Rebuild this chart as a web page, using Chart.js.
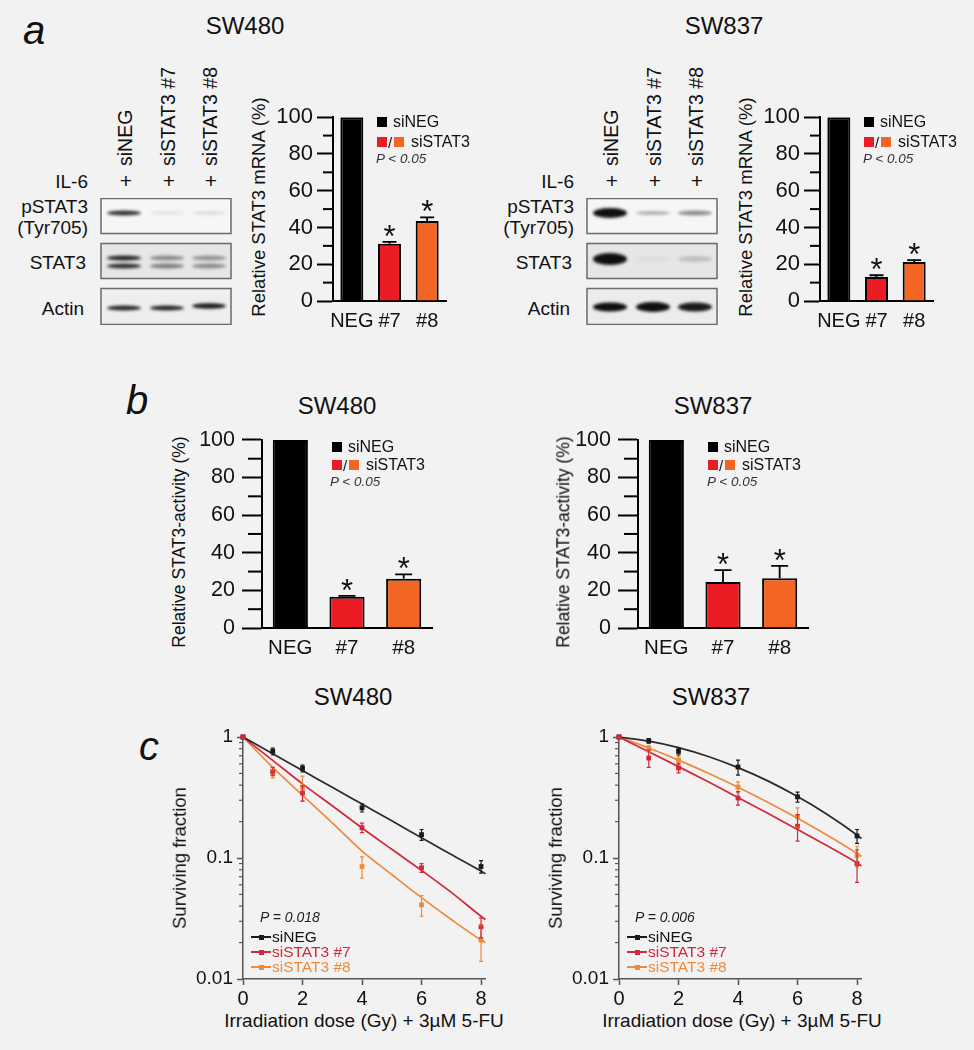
<!DOCTYPE html>
<html><head><meta charset="utf-8">
<script src="https://cdn.jsdelivr.net/npm/chart.js@4.4.1/dist/chart.umd.min.js"></script>
<style>
html,body{margin:0;padding:0}
body{width:974px;height:1050px;position:relative;overflow:hidden;background:#f2f2f2;font-family:"Liberation Sans",Arial,Helvetica,sans-serif;color:#111}
.t{position:absolute;white-space:nowrap;line-height:1}
.sq{position:absolute}
canvas{position:absolute;display:block}
</style></head><body>
<script>
// ---------------- data ----------------
const barCategories = ['NEG', '#7', '#8'];
const barTickValues = [0, 20, 40, 60, 80, 100];
const barMinorTickValues = [10, 30, 50, 70, 90];
const mrnaSW480 = [100, 31.2, 43.5];
const mrnaSW480Err = [0, 1.0, 2.0];
const mrnaSW837 = [100, 13.0, 21.2];
const mrnaSW837Err = [0, 1.0, 1.0];
const activitySW480 = [100, 16.6, 26.2];
const activitySW480Err = [0, 0.5, 2.3];
const activitySW837 = [100, 24.5, 26.4];
const activitySW837Err = [0, 6.3, 6.6];

const doses = [0, 1, 2, 4, 6, 8];
const doseTicks = [0, 2, 4, 6, 8];
const survTicks = [0.01, 0.1, 1];
const survMinorTicks = [0.02, 0.03, 0.04, 0.05, 0.06, 0.07, 0.08, 0.09, 0.2, 0.3, 0.4, 0.5, 0.6, 0.7, 0.8, 0.9];
const sw480_siNEG = [1, 0.76, 0.55, 0.26, 0.156, 0.085];
const sw480_siNEG_err = [0, 0.05, 0.035, 0.02, 0.016, 0.01];
const sw480_si7 = [1, 0.52, 0.345, 0.178, 0.083, 0.027];
const sw480_si7_err = [0, 0.04, 0.05, 0.016, 0.007, 0.005];
const sw480_si8 = [1, 0.50, 0.385, 0.085, 0.041, 0.021];
const sw480_si8_err = [0, 0.04, 0.09, 0.017, 0.008, 0.007];
const sw837_siNEG = [1, 0.93, 0.76, 0.565, 0.32, 0.152];
const sw837_siNEG_err = [0, 0.04, 0.05, 0.08, 0.03, 0.02];
const sw837_si7 = [1, 0.67, 0.555, 0.313, 0.183, 0.09];
const sw837_si7_err = [0, 0.11, 0.05, 0.04, 0.045, 0.027];
const sw837_si8 = [1, 0.80, 0.645, 0.386, 0.22, 0.105];
const sw837_si8_err = [0, 0.05, 0.05, 0.04, 0.04, 0.02];

// fitted curves
const fitDoses = [0, 1, 2, 3, 4, 5, 6, 7, 8, 8.15];
const sw480_fit_siNEG = [1, 0.727, 0.528, 0.384, 0.279, 0.203, 0.147, 0.107, 0.078, 0.074];
const sw480_fit_si7 = [1, 0.64, 0.41, 0.27, 0.177, 0.118, 0.079, 0.052, 0.033, 0.031];
const sw480_fit_si8 = [1, 0.56, 0.33, 0.195, 0.114, 0.073, 0.047, 0.031, 0.021, 0.020];
const sw837_fit_siNEG = [1, 0.924, 0.817, 0.69, 0.558, 0.434, 0.322, 0.229, 0.155, 0.145];
const sw837_fit_si7 = [1, 0.756, 0.569, 0.426, 0.316, 0.234, 0.172, 0.126, 0.091, 0.086];
const sw837_fit_si8 = [1, 0.81, 0.644, 0.502, 0.385, 0.289, 0.213, 0.154, 0.109, 0.103];

// western blot band intensities (0..1) per lane
const blotLanes = ['siNEG', 'siSTAT3 #7', 'siSTAT3 #8'];
const sw480_pSTAT3 = [0.85, 0.07, 0.10];
const sw480_STAT3_upper = [0.9, 0.42, 0.38];
const sw480_STAT3_lower = [0.85, 0.48, 0.42];
const sw480_Actin = [0.9, 0.9, 0.95];
const sw837_pSTAT3 = [1.0, 0.3, 0.45];
const sw837_STAT3 = [1.0, 0.05, 0.18];
const sw837_Actin = [1.0, 1.0, 0.95];

// ---------------- helpers ----------------
const F = '"Liberation Sans", Arial, Helvetica, sans-serif';
const BLACK = '#1a1a1a', RED = '#d2283a', ORANGE = '#ef8a3a';
const BAR_COLORS = ['#000000', '#ec1c24', '#f26522'];
Chart.defaults.font.family = F;
Chart.defaults.color = '#111';

function T(str, x, y, size, o = {}) {
  const d = document.createElement('div');
  d.className = 't';
  d.textContent = str;
  d.style.left = x + 'px'; d.style.top = y + 'px';
  d.style.fontSize = size + 'px';
  if (o.italic) d.style.fontStyle = 'italic';
  if (o.color) d.style.color = o.color;
  let tr;
  switch (o.align || 'c') {
    case 'l': tr = 'translate(0,-50%)'; break;
    case 'r': tr = 'translate(-100%,-50%)'; break;
    case 'rot': tr = 'translate(-50%,-50%) rotate(-90deg)'; break;
    case 'up': d.style.transformOrigin = '0 0'; tr = 'rotate(-90deg) translate(0,-50%)'; break;
    default: tr = 'translate(-50%,-50%)';
  }
  d.style.transform = tr;
  document.body.appendChild(d);
  return d;
}
function SQ(x, y, w, h, c) {
  const d = document.createElement('div');
  d.className = 'sq';
  Object.assign(d.style, { left: x + 'px', top: y + 'px', width: w + 'px', height: h + 'px', background: c });
  document.body.appendChild(d);
}
function mk(left, top, w, h) {
  const c = document.createElement('canvas');
  c.width = w; c.height = h;
  c.style.left = left + 'px'; c.style.top = top + 'px';
  c.style.width = w + 'px'; c.style.height = h + 'px';
  document.body.appendChild(c);
  return c;
}

// plugin: minor ticks, error bars, significance stars
const decor = {
  id: 'decor',
  afterDatasetsDraw(chart, args, o) {
    const ctx = chart.ctx, ys = chart.scales.y, ca = chart.chartArea;
    ctx.save();
    if (o.minorY) {
      ctx.strokeStyle = o.minorY.color; ctx.lineWidth = o.minorY.width;
      o.minorY.values.forEach(v => {
        const y = ys.getPixelForValue(v);
        ctx.beginPath(); ctx.moveTo(ca.left - o.minorY.length, y); ctx.lineTo(ca.left, y); ctx.stroke();
      });
    }
    (o.errors || []).forEach(e => {
      const meta = chart.getDatasetMeta(e.dataset);
      const data = chart.data.datasets[e.dataset].data;
      ctx.strokeStyle = e.color; ctx.lineWidth = e.width;
      e.values.forEach((err, i) => {
        if (!err) return;
        const el = meta.data[i]; const d = data[i];
        const v = (typeof d === 'object') ? d.y : d;
        const x = el.x;
        const yTop = ys.getPixelForValue(v + err);
        const yBot = e.upperOnly ? ys.getPixelForValue(v) : ys.getPixelForValue(Math.max(v - err, ys.min));
        ctx.beginPath();
        ctx.moveTo(x, yBot); ctx.lineTo(x, yTop);
        ctx.moveTo(x - e.cap / 2, yTop); ctx.lineTo(x + e.cap / 2, yTop);
        if (!e.upperOnly) { ctx.moveTo(x - e.cap / 2, yBot); ctx.lineTo(x + e.cap / 2, yBot); }
        ctx.stroke();
      });
    });
    if (o.stars) {
      const s = o.stars;
      const meta = chart.getDatasetMeta(0);
      const data = chart.data.datasets[0].data;
      ctx.fillStyle = '#111';
      ctx.font = s.size + 'px ' + F;
      ctx.textAlign = 'center'; ctx.textBaseline = 'alphabetic';
      s.indices.forEach(i => {
        const yc = ys.getPixelForValue(data[i] + s.errors[i]) - s.gap;
        ctx.fillText('*', meta.data[i].x, yc + 0.575 * s.size);
      });
    }
    ctx.restore();
  }
};
Chart.register(decor);

function barChart(left, top, W, H, geo, vals, errs, st) {
  const cv = mk(left, top, W, H);
  new Chart(cv, {
    type: 'bar',
    data: { labels: barCategories, datasets: [{ data: vals, backgroundColor: BAR_COLORS, borderColor: '#000', borderWidth: 2, barPercentage: st.bp, categoryPercentage: 1 }] },
    options: {
      responsive: false, animation: false, devicePixelRatio: 1,
      layout: { padding: { top: geo.pt, right: geo.pr, left: 0, bottom: 0 } },
      plugins: {
        legend: { display: false }, tooltip: { enabled: false },
        decor: {
          minorY: { values: barMinorTickValues, length: st.minorLen, width: 2, color: '#000' },
          errors: [{ dataset: 0, values: errs, upperOnly: true, cap: st.cap, width: 1.8, color: '#000' }],
          stars: { indices: [1, 2], errors: errs, gap: 13, size: 31 }
        }
      },
      scales: {
        x: {
          grid: { display: false }, border: { display: true, color: '#000', width: 2 },
          ticks: { font: { size: st.xFont }, color: '#111', padding: st.xPad, maxRotation: 0, minRotation: 0, autoSkip: false },
          afterFit: s => { s.height = geo.xh; }
        },
        y: {
          min: 0, max: 100,
          afterBuildTicks: s => { s.ticks = barTickValues.map(v => ({ value: v })); },
          grid: { display: true, drawOnChartArea: false, drawTicks: true, tickLength: st.majorLen, tickWidth: 2, tickColor: '#000' },
          border: { display: true, color: '#000', width: 2 },
          ticks: { font: { size: st.yFont }, color: '#111', padding: st.yPad },
          afterFit: s => { s.width = geo.yw; }
        }
      }
    }
  });
}

function survChart(left, top, W, H, geo, d) {
  const cv = mk(left, top, W, H);
  const pts = (arr) => doses.map((x, i) => ({ x: x, y: arr[i] }));
  const fit = (arr) => fitDoses.map((x, i) => ({ x: x, y: arr[i] }));
  const ptDs = (arr, c) => ({ data: pts(arr), showLine: false, pointStyle: 'rect', pointRadius: 3.4, backgroundColor: c, borderColor: c, borderWidth: 0, clip: false });
  const fitDs = (arr, c) => ({ data: fit(arr), showLine: true, pointRadius: 0, borderColor: c, borderWidth: 1.7, cubicInterpolationMode: 'monotone', clip: false, fill: false });
  new Chart(cv, {
    type: 'scatter',
    data: {
      datasets: [
        ptDs(d.si7, RED), ptDs(d.neg, BLACK), ptDs(d.si8, ORANGE),
        fitDs(d.fneg, '#2a2a2a'), fitDs(d.f7, RED), fitDs(d.f8, ORANGE)
      ]
    },
    options: {
      responsive: false, animation: false, devicePixelRatio: 1,
      layout: { padding: { top: geo.pt, right: geo.pr, left: 0, bottom: 0 } },
      plugins: {
        legend: { display: false }, tooltip: { enabled: false },
        decor: {
          minorY: { values: survMinorTicks, length: 4, width: 1.2, color: '#555' },
          errors: [
            { dataset: 2, values: d.e8, cap: 4, width: 1.2, color: ORANGE },
            { dataset: 1, values: d.eneg, cap: 4, width: 1.2, color: BLACK },
            { dataset: 0, values: d.e7, cap: 4, width: 1.2, color: RED }
          ]
        }
      },
      scales: {
        x: {
          type: 'linear', min: 0, max: 8.15,
          afterBuildTicks: s => { s.ticks = doseTicks.map(v => ({ value: v })); },
          grid: { display: true, drawOnChartArea: false, tickLength: 6, tickWidth: 1.5, tickColor: '#555' },
          border: { display: true, color: '#555', width: 1.5 },
          ticks: { font: { size: 20 }, color: '#111', padding: 2, maxRotation: 0 },
          afterFit: s => { s.height = geo.xh; }
        },
        y: {
          type: 'logarithmic', min: 0.01, max: 1,
          afterBuildTicks: s => { s.ticks = survTicks.map(v => ({ value: v })); },
          grid: { display: true, drawOnChartArea: false, tickLength: 6, tickWidth: 1.5, tickColor: '#555' },
          border: { display: true, color: '#555', width: 1.5 },
          ticks: { font: { size: 19 }, color: '#111', padding: 4, callback: v => String(v) },
          afterFit: s => { s.width = geo.yw; }
        }
      }
    }
  });
}

function drawBlot(left, top, rows) {
  const W = 132, H = 127;
  const cv = mk(left, top, W, H);
  const ctx = cv.getContext('2d');
  const lanesX = [24, 67, 109];
  rows.forEach(r => {
    ctx.fillStyle = r.bg;
    ctx.fillRect(1, r.y0, W - 2, r.h);
    ctx.save();
    ctx.beginPath(); ctx.rect(1, r.y0, W - 2, r.h); ctx.clip();
    ctx.filter = 'blur(1.6px)';
    r.bands.forEach(b => {
      b.ints.forEach((a, i) => {
        if (a <= 0) return;
        ctx.fillStyle = 'rgba(15,15,15,' + a + ')';
        const th = b.th[i];
        ctx.beginPath();
        ctx.ellipse(lanesX[i], r.y0 + b.dy + (b.oy ? b.oy[i] : 0), 17, th / 2, 0, 0, Math.PI * 2);
        ctx.fill();
      });
    });
    ctx.restore();
    ctx.strokeStyle = '#6a6a6a'; ctx.lineWidth = 1.5;
    ctx.strokeRect(1, r.y0 + 0.5, W - 2, r.h - 1);
  });
}

// ---------------- panel a ----------------
T('a', 34, 30, 40, { italic: true });
T('SW480', 245, 26, 24);
T('SW837', 724, 26, 24);
[0, 486].forEach(ox => {
  const laneX = [126 + ox, 169 + ox, 211 + ox];
  blotLanes.forEach((l, i) => T(l, laneX[i], 166, 19.5, { align: 'up' }));
  T('IL-6', 88 + ox, 181, 19, { align: 'r' });
  laneX.forEach(x => T('+', x, 180, 21));
  T('pSTAT3', 88 + ox, 206, 19, { align: 'r' });
  T('(Tyr705)', 88 + ox, 227, 19, { align: 'r' });
  T('STAT3', 86 + ox, 262, 19, { align: 'r' });
  T('Actin', 84 + ox, 308, 19, { align: 'r' });
});
drawBlot(100, 198, [
  { y0: 0, h: 36, bg: '#f6f6f6', bands: [{ dy: 15, ints: sw480_pSTAT3, th: [5, 4, 4] }] },
  { y0: 45, h: 36, bg: '#e6e6e6', bands: [{ dy: 15, ints: sw480_STAT3_upper, th: [5, 5, 5] }, { dy: 23, ints: sw480_STAT3_lower, th: [5, 5, 5] }] },
  { y0: 90, h: 37, bg: '#eeeeee', bands: [{ dy: 20, ints: sw480_Actin, th: [5, 5, 5.5], oy: [0, 0, -2] }] }
]);
drawBlot(586, 198, [
  { y0: 0, h: 36, bg: '#f6f6f6', bands: [{ dy: 15, ints: sw837_pSTAT3, th: [10, 4, 5] }] },
  { y0: 45, h: 36, bg: '#e6e6e6', bands: [{ dy: 16, ints: sw837_STAT3, th: [12, 5, 6] }] },
  { y0: 90, h: 37, bg: '#ececec', bands: [{ dy: 19, ints: sw837_Actin, th: [9, 10, 9] }] }
]);

const stA = { bp: 0.61, minorLen: 10, majorLen: 16, yFont: 22, yPad: 4, xFont: 20, xPad: 0, cap: 14 };
const geoA = { yw: 63, xh: 40, pt: 13, pr: 4 };
barChart(270, 100, 180, 241, geoA, mrnaSW480, mrnaSW480Err, stA);
barChart(757, 100, 180, 241, geoA, mrnaSW837, mrnaSW837Err, stA);
T('Relative STAT3 mRNA (%)', 259, 207, 18.5, { align: 'rot' });
T('Relative STAT3 mRNA (%)', 746, 207, 18.5, { align: 'rot' });
[0, 487].forEach(ox => {
  SQ(377 + ox, 117, 10, 10, '#000');
  T('siNEG', 393 + ox, 122, 16, { align: 'l' });
  SQ(377 + ox, 137, 10, 10, BAR_COLORS[1]);
  T('/', 390 + ox, 142, 15, { align: 'c' });
  SQ(394 + ox, 137, 10, 10, BAR_COLORS[2]);
  T('siSTAT3', 411 + ox, 142, 16, { align: 'l' });
  T('P < 0.05', 376 + ox, 159, 13.5, { align: 'l', italic: true, color: '#333' });
});

// ---------------- panel b ----------------
T('b', 137, 400, 40, { italic: true });
T('SW480', 337, 406, 24);
T('SW837', 713, 406, 24);
const stB = { bp: 0.62, minorLen: 14, majorLen: 20, yFont: 21.5, yPad: 7, xFont: 20.5, xPad: 0, cap: 17 };
const geoB = { yw: 72, xh: 35, pt: 19, pr: 4 };
barChart(190, 420, 246, 243, geoB, activitySW480, activitySW480Err, stB);
barChart(566, 420, 246, 243, geoB, activitySW837, activitySW837Err, stB);
T('Relative STAT3-activity (%)', 180, 542, 17.5, { align: 'rot' });
T('Relative STAT3-activity (%)', 564, 542, 17.5, { align: 'rot' });
[[332, 348, 366, 330], [708, 724, 742, 707]].forEach(([sx, tx, t2, px]) => {
  SQ(sx, 442, 10, 10, '#000');
  T('siNEG', tx, 447, 16, { align: 'l' });
  SQ(sx, 460, 10, 10, BAR_COLORS[1]);
  T('/', sx + 13, 465, 15);
  SQ(sx + 17, 460, 10, 10, BAR_COLORS[2]);
  T('siSTAT3', t2, 465, 16, { align: 'l' });
  T('P < 0.05', px, 482, 13.5, { align: 'l', italic: true, color: '#333' });
});

// ---------------- panel c ----------------
T('c', 149, 746, 40, { italic: true });
T('SW480', 353, 697, 24);
T('SW837', 711, 697, 24);
const geoC = { yw: 83, xh: 26, pt: 17, pr: 4.5 };
survChart(160, 720, 330, 285, geoC, {
  neg: sw480_siNEG, eneg: sw480_siNEG_err, si7: sw480_si7, e7: sw480_si7_err, si8: sw480_si8, e8: sw480_si8_err,
  fneg: sw480_fit_siNEG, f7: sw480_fit_si7, f8: sw480_fit_si8
});
survChart(536, 720, 330, 285, geoC, {
  neg: sw837_siNEG, eneg: sw837_siNEG_err, si7: sw837_si7, e7: sw837_si7_err, si8: sw837_si8, e8: sw837_si8_err,
  fneg: sw837_fit_siNEG, f7: sw837_fit_si7, f8: sw837_fit_si8
});
T('Surviving fraction', 180, 858, 18.5, { align: 'rot' });
T('Surviving fraction', 556, 858, 18.5, { align: 'rot' });
T('Irradiation dose (Gy) + 3\u00b5M 5-FU', 364, 1020, 19);
T('Irradiation dose (Gy) + 3\u00b5M 5-FU', 742, 1020, 19);
[[251, 260, 'P = 0.018'], [627, 635, 'P = 0.006']].forEach(([lx, px, p]) => {
  T(p, px, 917, 14, { align: 'l', italic: true, color: '#222' });
  const rows = [['siNEG', BLACK, 937], ['siSTAT3 #7', RED, 952], ['siSTAT3 #8', ORANGE, 967]];
  rows.forEach(([txt, c, y]) => {
    SQ(lx, y - 0.75, 20, 1.5, c);
    SQ(lx + 8, y - 2.5, 5, 5, c);
    T(txt, lx + 21, y, 15.5, { align: 'l', color: c === BLACK ? '#111' : c });
  });
});
</script>
</body></html>
